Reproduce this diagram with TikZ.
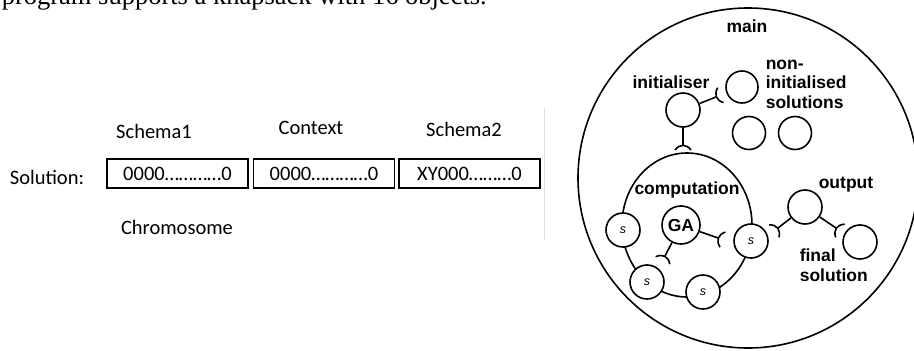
\documentclass[tikz,border=0pt]{standalone}
\usepackage{fontspec}
\setmainfont{Liberation Sans}
\newfontfamily\calfont{Carlito}
\newfontfamily\timesfont{Liberation Serif}
\usetikzlibrary{shapes.geometric}
\begin{document}
\begin{tikzpicture}[x=1pt,y=-1pt,line width=1.6pt,
  lbl/.style={font=\fontsize{17.5}{19.5}\selectfont\bfseries,inner sep=0pt,align=left},
  cal/.style={font=\calfont\fontsize{20.5}{24}\selectfont,inner sep=0pt},
  ball/.style={circle,draw,minimum size=34pt,inner sep=0pt,fill=white},
  sball/.style={ball,font=\itshape\fontsize{12.5}{12}\selectfont},
  socket/.pic={\draw[line width=1.6pt] (5,-8) .. controls (-1.2,-3.2) and (-1.2,3.2) .. (5,8);},
  sockat/.style={pos=1,sloped,allow upside down},
  bitbox/.style={draw,line width=1.4pt,minimum width=141pt,minimum height=29pt,inner sep=0pt,cal}]
\useasboundingbox (0,0) rectangle (914,351);
\clip (0,0) rectangle (914,351);
% top text (cut by the top edge)
\node[anchor=base west,inner sep=0pt,font=\timesfont\fontsize{26.5}{30}\selectfont] (top) at (1,4) {program supports a knapsack with 16 objects.};
% left part
\node[cal] (sc1) at (154,131) {Schema1};
\node[cal] (ctx) at (311,128) {Context};
\node[cal] (sc2) at (464,129) {Schema2};
\node[cal] (sol) at (47,177) {Solution:};
\node[bitbox] (b1) at (177.5,173.5) {0000…………0};
\node[bitbox] (b2) at (324,173.5) {0000…………0};
\node[bitbox] (b3) at (469.5,173.5) {XY000………0};
\node[cal] (chr) at (177,227) {Chromosome};
\coordinate (g1) at (544,108);
\coordinate (g2) at (544,240);
\draw[line width=0.7pt,black!12] (g1) -- (g2);
% right part
\node[circle,draw,minimum size=340pt,inner sep=0pt] (outer) at (748,178) {};
\node[lbl] (mainl) at (747,26) {main};
\node[lbl] (initl) at (671,82) {initialiser};
\node[lbl,anchor=west] (nonl) at (765,84) {non-\\initialised\\solutions};
\node[ball] (init) at (683,110) {};
\node[ball,minimum size=32pt] (n1) at (742,87) {};
\node[ball,minimum size=33pt] (n2) at (749,133) {};
\node[ball,minimum size=33pt] (n3) at (795,133) {};
\node[ellipse,draw,minimum width=130pt,minimum height=144pt,inner sep=0pt] (comp) at (687,225) {};
\node[lbl] (compl) at (687,190) {computation};
\node[sball] (s1) at (623,230) {s};
\node[sball] (s2) at (647,282) {s};
\node[sball] (s3) at (703,292) {s};
\node[sball] (s4) at (751,241) {s};
\node[ball,minimum size=38pt,font=\fontsize{17.5}{19}\selectfont\bfseries] (ga) at (681,225) {GA};
\node[ball] (out) at (805,207) {};
\node[lbl] (outl) at (846,185) {output};
\node[ball] (fin) at (860,242) {};
\node[lbl,anchor=west] (finl) at (799,265) {final\\[1pt]solution};
% sockets (required interfaces)
\coordinate (sA) at (716,97);
\coordinate (sB) at (683,145);
\coordinate (sC) at (718,238);
\coordinate (sD) at (665,256);
\coordinate (sE) at (778,228);
\coordinate (sF) at (836,228);
\draw (init) -- (sA) pic[sockat]{socket};
\draw (init) -- (sB) pic[sockat]{socket};
\draw (ga) -- (sC) pic[sockat]{socket};
\draw (ga) -- (sD) pic[sockat]{socket};
\draw (out) -- (sE) pic[sockat]{socket};
\draw (out) -- (sF) pic[sockat]{socket};
\end{tikzpicture}
\end{document}
